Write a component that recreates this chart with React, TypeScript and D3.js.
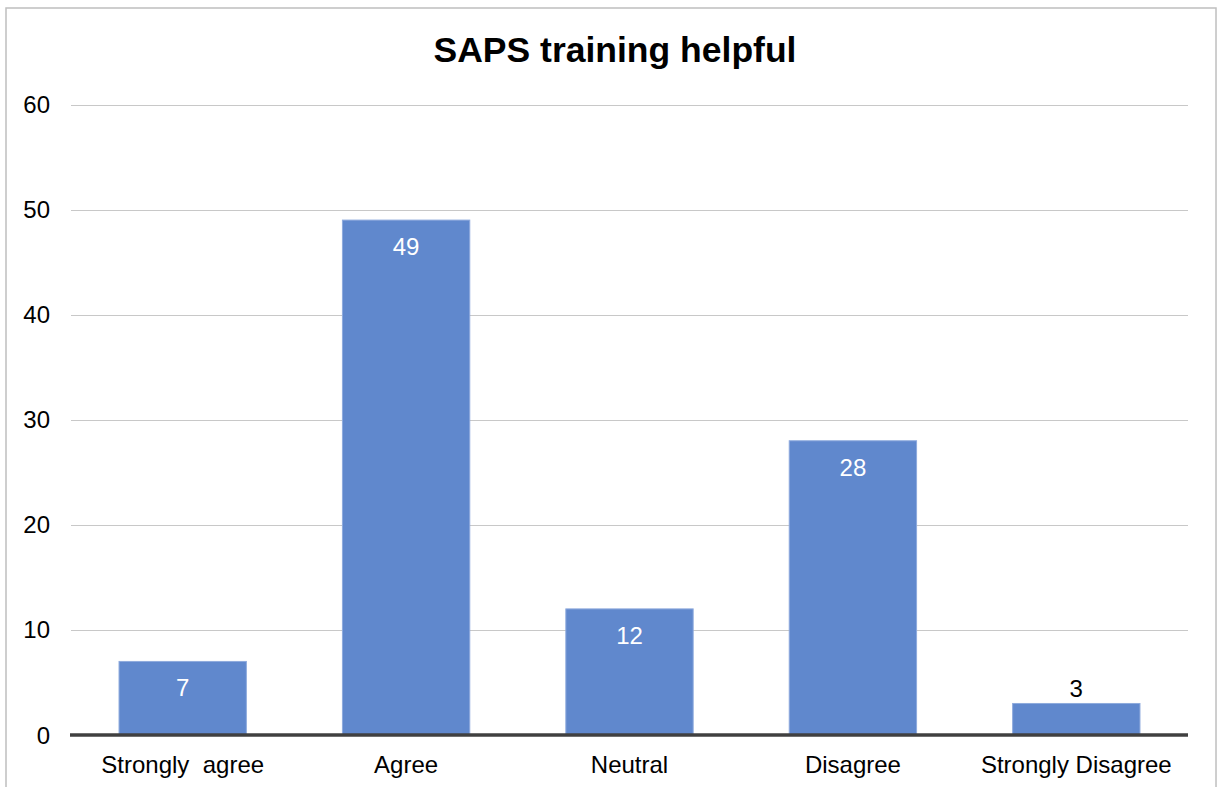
import React from "react";
import * as d3 from "d3";

const categories = ["Strongly  agree", "Agree", "Neutral", "Disagree", "Strongly Disagree"];
const values = [7, 49, 12, 28, 3];
const yTicks = [0, 10, 20, 30, 40, 50, 60];
const title = "SAPS training helpful";

export default function App() {
  const W = 1217, H = 787;
  const left = 71, right = 1188, top = 104.5, bottom = 735;
  const x = d3.scaleBand<string>().domain(categories).range([left, right]).paddingInner(0.43).paddingOuter(0.215);
  const y = d3.scaleLinear().domain([0, 60]).range([bottom, top]);
  const font = "'Liberation Sans', Arial, sans-serif";
  return (
    <svg width={W} height={H} style={{ position: "absolute", left: 0, top: 0 }} fontFamily={font}>
      <rect x={0} y={0} width={W} height={H} fill="#fff" />
      <rect x={6} y={8} width={1210} height={H + 10} fill="none" stroke="#bfbfbf" strokeWidth={1.5} />
      <text x={615} y={62} textAnchor="middle" fontSize={35.5} fontWeight="bold" fill="#000">{title}</text>
      {yTicks.filter(t => t > 0).map(t => (
        <line key={t} x1={left} x2={right} y1={Math.round(y(t)) + 0.5} y2={Math.round(y(t)) + 0.5} stroke="#c8c8c8" strokeWidth={1} />
      ))}
      {yTicks.map(t => (
        <text key={"l" + t} x={50} y={y(t) + 8.5} textAnchor="end" fontSize={24} fill="#000">{t}</text>
      ))}
      {categories.map((c, i) => {
        const v = values[i];
        const bx = x(c)!;
        const bw = x.bandwidth();
        const by = y(v);
        const inside = by < bottom - 40;
        return (
          <g key={c}>
            <rect x={bx} y={by} width={bw} height={bottom - by} fill="#6088cd" stroke="#8eaadd" strokeWidth={1} />
            <text x={bx + bw / 2} y={inside ? by + 35 : by - 6} textAnchor="middle" fontSize={24} fill={inside ? "#fff" : "#000"}>{v}</text>
            <text x={bx + bw / 2} y={773} textAnchor="middle" fontSize={24} fill="#000" style={{ whiteSpace: "pre" }}>{c}</text>
          </g>
        );
      })}
      <line x1={left - 1} x2={right} y1={bottom} y2={bottom} stroke="#404040" strokeWidth={3.5} />
    </svg>
  );
}
